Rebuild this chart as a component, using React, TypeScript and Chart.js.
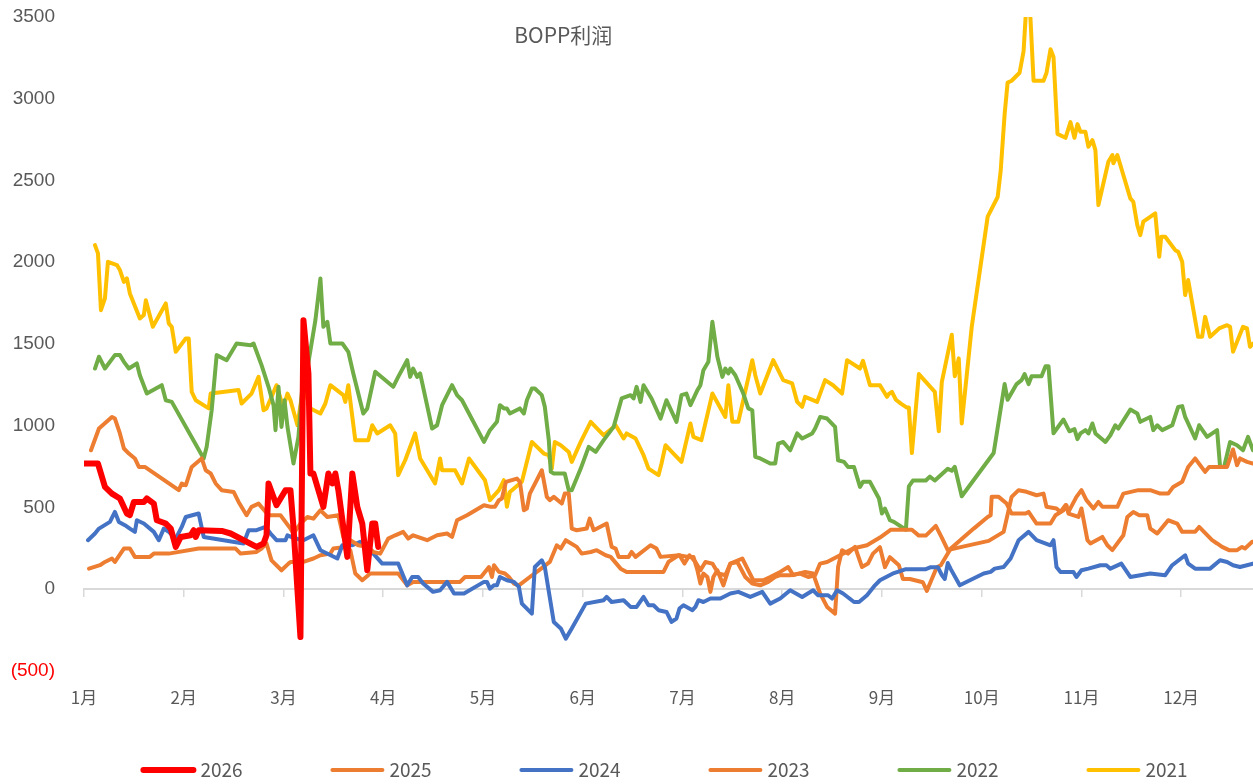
import React, { useEffect, useRef } from "react";
import { Chart, registerables } from "chart.js";

Chart.register(...registerables);

// ---- data: [month position (0 = 1月), profit] ----
const chartTitle = "BOPP利润";
const monthLabels = ["1月", "2月", "3月", "4月", "5月", "6月", "7月", "8月", "9月", "10月", "11月", "12月"];
const seriesNames = ["2026", "2025", "2024", "2023", "2022", "2021"];
const seriesColors = ["#FF0000", "#ED7D31", "#4472C4", "#ED7D31", "#70AD47", "#FFC000"];
const seriesWidths = [6, 4, 4, 4, 4, 4];
const yTicks = [-500, 0, 500, 1000, 1500, 2000, 2500, 3000, 3500];

const s2026: [number, number][] = [
  [0.0, 769], [0.14, 769], [0.21, 626], [0.28, 585], [0.36, 555], [0.43, 463], [0.46, 453], [0.5, 534],
  [0.6, 534], [0.63, 555], [0.7, 524], [0.73, 422], [0.82, 402], [0.87, 371], [0.92, 259], [0.97, 320],
  [1.07, 330], [1.1, 361], [1.12, 320], [1.15, 361], [1.38, 357], [1.47, 341], [1.73, 259], [1.8, 280],
  [1.83, 330], [1.85, 647], [1.93, 514], [2.02, 606], [2.07, 606], [2.1, 381], [2.17, -292], [2.2, 1646],
  [2.25, 1320], [2.27, 708], [2.3, 708], [2.4, 504], [2.45, 708], [2.49, 647], [2.52, 708], [2.55, 606],
  [2.64, 198], [2.69, 708], [2.74, 504], [2.79, 402], [2.84, 116], [2.89, 402], [2.92, 402], [2.95, 259],
];

const s2025: [number, number][] = [
  [0.07, 850], [0.15, 983], [0.28, 1054], [0.31, 1044], [0.36, 953], [0.4, 861], [0.45, 830], [0.51, 800],
  [0.55, 748], [0.61, 748], [0.95, 606], [0.98, 647], [1.02, 636], [1.08, 748], [1.18, 800], [1.22, 728],
  [1.27, 708], [1.32, 647], [1.38, 606], [1.5, 595], [1.55, 534], [1.63, 453], [1.68, 504], [1.75, 524],
  [1.85, 453], [1.97, 453], [2.07, 371], [2.1, 341], [2.17, 402], [2.24, 442], [2.3, 432], [2.37, 483],
  [2.44, 442], [2.55, 453], [2.6, 320], [2.67, 300], [2.75, 269], [2.85, 259], [2.9, 228], [2.97, 218],
  [3.05, 310], [3.12, 330], [3.2, 351], [3.25, 310], [3.3, 330], [3.44, 300], [3.54, 330], [3.64, 341],
  [3.69, 320], [3.74, 422], [3.84, 453], [4.01, 514], [4.08, 504], [4.12, 504], [4.16, 545], [4.19, 555],
  [4.23, 657], [4.34, 677], [4.37, 657], [4.41, 483], [4.44, 494], [4.47, 585], [4.59, 728], [4.64, 565],
  [4.67, 545], [4.71, 565], [4.79, 524], [4.82, 585], [4.86, 585], [4.89, 371], [4.94, 361], [5.04, 371],
  [5.07, 432], [5.11, 361], [5.24, 402], [5.29, 259], [5.33, 249], [5.36, 198], [5.46, 198], [5.49, 228],
  [5.53, 198], [5.68, 269], [5.74, 249], [5.78, 198], [5.97, 208], [6.02, 157], [6.07, 208], [6.13, 167],
  [6.18, 116], [6.23, 167], [6.3, 157], [6.36, 96], [6.43, 86], [6.48, 157], [6.55, 167], [6.63, 75],
  [6.7, 35], [6.78, 24], [6.86, 45], [6.93, 75], [6.98, 86], [7.08, 86], [7.18, 96], [7.26, 75],
  [7.33, 86], [7.38, 157], [7.45, 167], [7.71, 249], [7.85, 269], [7.98, 316], [8.09, 364], [8.23, 364],
  [8.3, 364], [8.37, 328], [8.44, 328], [8.54, 388], [8.6, 316], [8.66, 239], [8.8, 259], [9.07, 296],
  [9.22, 351], [9.3, 565], [9.37, 606], [9.45, 596], [9.55, 575], [9.62, 585], [9.65, 504], [9.75, 494],
  [9.79, 473], [9.84, 514], [9.87, 473], [9.95, 565], [10.0, 606], [10.05, 545], [10.12, 494], [10.17, 534],
  [10.21, 504], [10.36, 504], [10.42, 585], [10.57, 606], [10.69, 606], [10.79, 585], [10.87, 585], [10.92, 626],
  [11.01, 657], [11.07, 748], [11.14, 800], [11.24, 718], [11.28, 748], [11.38, 748], [11.46, 748], [11.52, 855],
  [11.56, 759], [11.59, 800], [11.66, 779], [11.72, 769],
];

const s2024: [number, number][] = [
  [0.04, 300], [0.11, 341], [0.15, 371], [0.26, 412], [0.31, 473], [0.35, 412], [0.41, 392], [0.46, 371],
  [0.51, 351], [0.53, 422], [0.6, 402], [0.7, 351], [0.75, 300], [0.8, 371], [0.85, 351], [0.92, 310],
  [0.98, 381], [1.02, 442], [1.15, 463], [1.2, 320], [1.6, 280], [1.65, 361], [1.73, 361], [1.82, 381],
  [1.87, 341], [1.93, 300], [2.02, 300], [2.04, 330], [2.12, 310], [2.2, 300], [2.3, 330], [2.37, 239],
  [2.54, 188], [2.59, 269], [2.69, 269], [2.77, 290], [2.87, 239], [2.99, 157], [3.15, 157], [3.24, 24],
  [3.29, 75], [3.35, 75], [3.4, 35], [3.5, -16], [3.57, -6], [3.64, 45], [3.71, -26], [3.81, -26],
  [4.01, 45], [4.04, 45], [4.07, 4], [4.11, 24], [4.14, 24], [4.17, 75], [4.24, 55], [4.31, 45],
  [4.36, 14], [4.39, -88], [4.49, -149], [4.52, 136], [4.59, 177], [4.62, 136], [4.71, -200], [4.78, -240],
  [4.83, -302], [4.89, -240], [5.03, -88], [5.21, -67], [5.24, -47], [5.29, -78], [5.41, -67], [5.48, -108],
  [5.54, -108], [5.61, -47], [5.66, -98], [5.71, -98], [5.76, -128], [5.84, -139], [5.89, -200], [5.94, -179],
  [5.97, -118], [6.01, -98], [6.1, -128], [6.13, -108], [6.16, -67], [6.21, -78], [6.28, -57], [6.38, -57],
  [6.48, -26], [6.56, -16], [6.68, -47], [6.8, -16], [6.88, -88], [6.98, -57], [7.08, -6], [7.2, -47],
  [7.31, -6], [7.36, -37], [7.46, -37], [7.5, -57], [7.55, -6], [7.61, -26], [7.72, -78], [7.77, -78],
  [7.85, -37], [7.93, 24], [7.98, 55], [8.12, 99], [8.24, 123], [8.44, 123], [8.49, 135], [8.56, 135],
  [8.6, 87], [8.63, 63], [8.66, 160], [8.69, 123], [8.78, 24], [9.02, 96], [9.09, 106], [9.13, 126],
  [9.22, 136], [9.29, 188], [9.37, 300], [9.47, 351], [9.55, 300], [9.69, 269], [9.72, 300], [9.75, 136],
  [9.79, 106], [9.92, 106], [9.95, 75], [10.0, 116], [10.07, 126], [10.19, 147], [10.25, 147], [10.29, 126],
  [10.4, 157], [10.49, 75], [10.59, 86], [10.69, 96], [10.84, 86], [10.91, 147], [11.04, 208], [11.07, 157],
  [11.14, 126], [11.29, 126], [11.39, 177], [11.46, 167], [11.52, 147], [11.59, 136], [11.72, 157],
];

const s2023: [number, number][] = [
  [0.05, 126], [0.16, 147], [0.21, 167], [0.28, 188], [0.31, 167], [0.4, 249], [0.46, 249], [0.51, 198],
  [0.66, 198], [0.7, 218], [0.85, 218], [1.15, 249], [1.52, 249], [1.57, 218], [1.73, 228], [1.78, 249],
  [1.83, 280], [1.88, 177], [1.98, 116], [2.05, 157], [2.07, 167], [2.2, 167], [2.3, 188], [2.37, 208],
  [2.47, 218], [2.5, 249], [2.62, 259], [2.67, 239], [2.72, 96], [2.79, 55], [2.87, 96], [3.15, 96],
  [3.24, 24], [3.3, 45], [3.44, 45], [3.77, 45], [3.82, 75], [3.98, 75], [4.06, 136], [4.09, 75],
  [4.11, 147], [4.16, 106], [4.22, 96], [4.26, 75], [4.31, 35], [4.36, 24], [4.47, 75], [4.56, 116],
  [4.67, 167], [4.74, 269], [4.78, 249], [4.83, 300], [4.94, 259], [4.99, 218], [5.08, 228], [5.14, 239],
  [5.23, 208], [5.28, 198], [5.38, 126], [5.44, 106], [5.81, 106], [5.86, 167], [5.96, 208], [6.06, 198],
  [6.11, 198], [6.15, 116], [6.18, 35], [6.21, 96], [6.25, 75], [6.28, -16], [6.31, 75], [6.35, 116],
  [6.41, 24], [6.48, 157], [6.6, 188], [6.66, 116], [6.71, 55], [6.81, 55], [6.88, 75], [6.98, 106],
  [7.06, 136], [7.11, 86], [7.23, 106], [7.31, 96], [7.38, -26], [7.45, -108], [7.53, -149], [7.56, 136],
  [7.6, 239], [7.66, 218], [7.73, 259], [7.8, 136], [7.86, 157], [7.91, 218], [7.98, 257], [8.03, 135],
  [8.08, 196], [8.17, 147], [8.21, 63], [8.28, 63], [8.41, 43], [8.45, -10], [8.5, 63], [8.55, 135],
  [8.59, 147], [8.69, 249], [8.92, 371], [9.06, 442], [9.09, 453], [9.1, 565], [9.17, 565], [9.25, 524],
  [9.3, 463], [9.44, 463], [9.47, 473], [9.55, 402], [9.69, 402], [9.74, 453], [9.82, 483], [9.85, 514],
  [9.87, 463], [9.97, 442], [10.0, 494], [10.06, 300], [10.09, 280], [10.21, 320], [10.26, 269], [10.31, 239],
  [10.42, 330], [10.46, 442], [10.52, 473], [10.58, 453], [10.66, 453], [10.69, 371], [10.76, 341], [10.87, 422],
  [10.96, 402], [11.01, 351], [11.14, 351], [11.18, 381], [11.31, 300], [11.36, 280], [11.41, 259], [11.48, 239],
  [11.56, 239], [11.61, 259], [11.64, 249], [11.71, 290], [11.72, 290],
];

const s2022: [number, number][] = [
  [0.11, 1350], [0.15, 1422], [0.21, 1350], [0.31, 1432], [0.36, 1432], [0.4, 1391], [0.45, 1350], [0.53, 1381],
  [0.56, 1309], [0.63, 1197], [0.78, 1248], [0.82, 1156], [0.88, 1146], [1.2, 800], [1.23, 871], [1.28, 1095],
  [1.33, 1432], [1.43, 1401], [1.53, 1503], [1.67, 1493], [1.7, 1503], [1.78, 1371], [1.85, 1238], [1.9, 1126],
  [1.92, 973], [1.95, 1238], [1.98, 993], [2.01, 1156], [2.04, 993], [2.1, 769], [2.15, 932], [2.2, 1330],
  [2.24, 1350], [2.32, 1646], [2.37, 1901], [2.4, 1605], [2.44, 1636], [2.47, 1503], [2.59, 1503], [2.65, 1452],
  [2.7, 1320], [2.8, 1075], [2.84, 1106], [2.92, 1330], [3.1, 1238], [3.15, 1299], [3.24, 1401], [3.27, 1299],
  [3.3, 1350], [3.34, 1299], [3.37, 1320], [3.49, 983], [3.54, 1003], [3.59, 1126], [3.69, 1248], [3.74, 1187],
  [3.79, 1156], [4.01, 901], [4.07, 973], [4.14, 1024], [4.17, 1126], [4.21, 1106], [4.24, 1106], [4.27, 1075],
  [4.37, 1106], [4.41, 1075], [4.44, 1156], [4.49, 1228], [4.52, 1228], [4.59, 1187], [4.62, 1116], [4.66, 912],
  [4.68, 718], [4.71, 708], [4.82, 708], [4.86, 606], [4.89, 606], [4.98, 738], [5.06, 871], [5.13, 840],
  [5.21, 912], [5.31, 993], [5.39, 1167], [5.48, 1187], [5.51, 1167], [5.54, 1238], [5.58, 1146], [5.61, 1248],
  [5.69, 1167], [5.78, 1044], [5.84, 1156], [5.94, 1024], [5.99, 1187], [6.04, 1197], [6.08, 1126], [6.15, 1218],
  [6.18, 1248], [6.21, 1340], [6.26, 1391], [6.3, 1636], [6.35, 1422], [6.4, 1299], [6.43, 1350], [6.46, 1320],
  [6.48, 1350], [6.53, 1309], [6.61, 1197], [6.66, 1106], [6.7, 1095], [6.73, 810], [6.78, 800], [6.88, 769],
  [6.93, 769], [6.96, 891], [7.01, 901], [7.08, 850], [7.15, 953], [7.2, 922], [7.3, 953], [7.33, 983],
  [7.38, 1054], [7.45, 1044], [7.53, 993], [7.56, 789], [7.62, 779], [7.66, 748], [7.72, 748], [7.78, 626],
  [7.81, 657], [7.88, 657], [7.97, 555], [8.0, 463], [8.03, 494], [8.08, 422], [8.12, 412], [8.24, 364],
  [8.27, 629], [8.31, 665], [8.44, 665], [8.48, 689], [8.53, 665], [8.66, 737], [8.7, 725], [8.73, 749],
  [8.8, 569], [9.12, 833], [9.23, 1255], [9.26, 1159], [9.35, 1255], [9.4, 1279], [9.43, 1316], [9.47, 1255],
  [9.5, 1303], [9.6, 1303], [9.64, 1364], [9.67, 1364], [9.72, 954], [9.82, 1038], [9.88, 966], [9.93, 979],
  [9.96, 918], [9.99, 953], [10.04, 973], [10.07, 953], [10.11, 1014], [10.14, 953], [10.24, 901], [10.29, 942],
  [10.34, 1003], [10.37, 983], [10.49, 1099], [10.56, 1075], [10.59, 1024], [10.69, 1054], [10.72, 973], [10.76, 1003],
  [10.81, 973], [10.91, 1003], [10.97, 1115], [11.01, 1120], [11.04, 1054], [11.14, 922], [11.18, 1003], [11.26, 932],
  [11.36, 973], [11.39, 748], [11.43, 748], [11.49, 901], [11.56, 881], [11.62, 850], [11.67, 932], [11.72, 850],
];

const s2021: [number, number][] = [
  [0.11, 2105], [0.14, 2054], [0.17, 1707], [0.21, 1779], [0.24, 2003], [0.33, 1983], [0.36, 1952], [0.4, 1880],
  [0.43, 1901], [0.46, 1809], [0.56, 1656], [0.6, 1677], [0.62, 1768], [0.69, 1605], [0.82, 1748], [0.85, 1626],
  [0.88, 1605], [0.92, 1452], [1.02, 1534], [1.05, 1534], [1.08, 1207], [1.12, 1156], [1.25, 1106], [1.27, 1197],
  [1.55, 1218], [1.58, 1136], [1.68, 1197], [1.75, 1299], [1.8, 1095], [1.83, 1106], [1.93, 1248], [1.97, 1167],
  [2.0, 1116], [2.04, 1197], [2.07, 1156], [2.14, 1003], [2.2, 1248], [2.27, 1106], [2.37, 1075], [2.42, 1136],
  [2.47, 1248], [2.6, 1187], [2.62, 1146], [2.65, 1248], [2.72, 912], [2.85, 912], [2.89, 1003], [2.94, 953],
  [3.07, 1003], [3.12, 953], [3.15, 698], [3.22, 789], [3.32, 953], [3.37, 800], [3.52, 647], [3.57, 800],
  [3.59, 728], [3.72, 728], [3.79, 647], [3.86, 800], [4.02, 667], [4.07, 545], [4.16, 606], [4.21, 667],
  [4.24, 504], [4.27, 595], [4.39, 657], [4.49, 901], [4.61, 830], [4.66, 820], [4.69, 738], [4.72, 901],
  [4.78, 881], [4.86, 840], [4.89, 779], [4.98, 901], [5.08, 1024], [5.16, 973], [5.21, 942], [5.33, 1003],
  [5.41, 922], [5.44, 953], [5.53, 922], [5.61, 820], [5.66, 738], [5.76, 698], [5.79, 769], [5.83, 881],
  [5.91, 830], [5.99, 779], [6.08, 1014], [6.11, 932], [6.19, 912], [6.3, 1197], [6.43, 1054], [6.46, 1248],
  [6.5, 1024], [6.56, 1024], [6.7, 1401], [6.73, 1309], [6.78, 1197], [6.91, 1401], [7.01, 1279], [7.1, 1259],
  [7.15, 1146], [7.2, 1116], [7.23, 1177], [7.35, 1146], [7.43, 1279], [7.51, 1248], [7.6, 1197], [7.65, 1401],
  [7.78, 1350], [7.81, 1397], [7.88, 1248], [7.98, 1248], [8.05, 1177], [8.07, 1195], [8.1, 1207], [8.14, 1159],
  [8.19, 1135], [8.25, 1111], [8.27, 1111], [8.3, 833], [8.37, 1316], [8.53, 1207], [8.57, 966], [8.6, 1267],
  [8.7, 1557], [8.73, 1303], [8.77, 1412], [8.8, 1014], [8.9, 1604], [9.06, 2279], [9.16, 2399], [9.19, 2556],
  [9.23, 2906], [9.26, 3099], [9.3, 3110], [9.38, 3159], [9.42, 3291], [9.45, 3600], [9.48, 3600], [9.52, 3110],
  [9.62, 3110], [9.65, 3159], [9.69, 3303], [9.72, 3255], [9.76, 2785], [9.84, 2761], [9.89, 2857], [9.93, 2761],
  [9.96, 2845], [9.99, 2798], [10.04, 2798], [10.07, 2706], [10.11, 2747], [10.14, 2686], [10.17, 2350], [10.27, 2615],
  [10.31, 2656], [10.32, 2605], [10.36, 2656], [10.49, 2391], [10.52, 2370], [10.56, 2227], [10.59, 2166], [10.62, 2248],
  [10.74, 2299], [10.78, 2033], [10.8, 2156], [10.84, 2156], [10.94, 2074], [10.97, 2064], [11.01, 2003], [11.04, 1799],
  [11.07, 1891], [11.17, 1544], [11.21, 1544], [11.24, 1666], [11.29, 1544], [11.38, 1595], [11.46, 1615], [11.49, 1605],
  [11.52, 1452], [11.62, 1605], [11.66, 1595], [11.69, 1483], [11.72, 1503],
];

const allSeries = [s2026, s2025, s2024, s2023, s2022, s2021];

const X_MAX = 11.72;
const GRAY = "#595959";
const AXIS_GRAY = "#D9D9D9";

const monthTicks = (scale: any) => {
  scale.ticks = monthLabels.map((_, i) => ({ value: i }));
};

const overlayPlugin = {
  id: "overlayTitleLegend",
  afterDraw(chart: any) {
    const { ctx, chartArea } = chart;
    ctx.save();
    // title
    ctx.fillStyle = GRAY;
    ctx.font = '21px "Noto Sans CJK SC", sans-serif';
    ctx.textAlign = "center";
    ctx.textBaseline = "middle";
    ctx.fillText(chartTitle, chartArea.left + (chartArea.right - chartArea.left) * 0.41, chartArea.top + 18);

    // legend
    const datasets = chart.data.datasets;
    const pitch = 189;
    const lineLen = 54;
    const gap = 5;
    ctx.font = '19px "Noto Sans CJK SC", sans-serif';
    const lastW = ctx.measureText(datasets[datasets.length - 1].label).width;
    const total = (datasets.length - 1) * pitch + lineLen + gap + lastW;
    const center = (chartArea.left + chartArea.right) / 2 - 4;
    let x = center - total / 2;
    const y = chart.height - 14;
    datasets.forEach((ds: any) => {
      ctx.strokeStyle = ds.borderColor;
      ctx.lineWidth = ds.borderWidth;
      ctx.lineCap = "round";
      ctx.beginPath();
      ctx.moveTo(x + 2, y);
      ctx.lineTo(x + lineLen - 2, y);
      ctx.stroke();
      ctx.fillStyle = GRAY;
      ctx.textAlign = "left";
      ctx.textBaseline = "middle";
      ctx.fillText(ds.label, x + lineLen + gap, y);
      x += pitch;
    });
    ctx.restore();
  },
};

export default function App() {
  const ref = useRef<HTMLCanvasElement>(null);

  useEffect(() => {
    document.body.style.margin = "0";
    const canvas = ref.current;
    if (!canvas) return;

    const datasets = seriesNames.map((name, i) => ({
      label: name,
      data: allSeries[i].map(([x, y]) => ({ x, y })),
      borderColor: seriesColors[i],
      backgroundColor: seriesColors[i],
      borderWidth: seriesWidths[i],
      pointRadius: 0,
      pointHoverRadius: 0,
      tension: 0,
      fill: false,
      borderJoinStyle: "round" as const,
      borderCapStyle: "round" as const,
    }));

    const chart = new Chart(canvas, {
      type: "line",
      data: { datasets },
      plugins: [overlayPlugin],
      options: {
        animation: false,
        responsive: false,
        devicePixelRatio: 1,
        events: [],
        layout: { padding: { top: 17, bottom: 63, left: 0, right: 0 } },
        plugins: {
          legend: { display: false },
          title: { display: false },
          tooltip: { enabled: false },
        },
        scales: {
          x: {
            type: "linear",
            position: "bottom",
            min: 0,
            max: X_MAX,
            afterBuildTicks: monthTicks,
            afterFit: (scale: any) => {
              scale.height = 50;
            },
            grid: { display: false, drawTicks: false },
            border: { display: false },
            ticks: {
              autoSkip: false,
              maxRotation: 0,
              padding: 16,
              color: GRAY,
              font: { size: 17, family: '"Noto Sans CJK SC", sans-serif' },
              callback: (v: any) => monthLabels[Number(v)] ?? "",
            },
          },
          xZero: {
            type: "linear",
            position: { y: 0 } as any,
            min: 0,
            max: X_MAX,
            afterBuildTicks: monthTicks,
            grid: {
              display: true,
              drawOnChartArea: false,
              drawTicks: true,
              tickLength: 7,
              color: AXIS_GRAY,
              lineWidth: 1.5,
            },
            border: { display: true, color: AXIS_GRAY, width: 2 },
            ticks: { display: false, autoSkip: false },
          },
          y: {
            type: "linear",
            position: "left",
            min: -500,
            max: 3500,
            afterBuildTicks: (scale: any) => {
              scale.ticks = yTicks.map((v) => ({ value: v }));
            },
            afterFit: (scale: any) => {
              scale.width = 84;
              scale.paddingTop = 10;
              scale.paddingBottom = 10;
            },
            grid: { display: false, drawTicks: false },
            border: { display: false },
            ticks: {
              padding: 29,
              color: (c: any) => (c.tick && c.tick.value < 0 ? "#FF0000" : GRAY),
              font: { size: 19, family: '"Liberation Sans", Arial, sans-serif' },
              callback: (v: any) => (Number(v) < 0 ? `(${Math.abs(Number(v))})` : `${v}`),
            },
          },
        },
      } as any,
    });

    return () => chart.destroy();
  }, []);

  return (
    <div style={{ width: 1253, height: 784 }}>
      <canvas ref={ref} width={1253} height={784} style={{ display: "block" }} />
    </div>
  );
}
